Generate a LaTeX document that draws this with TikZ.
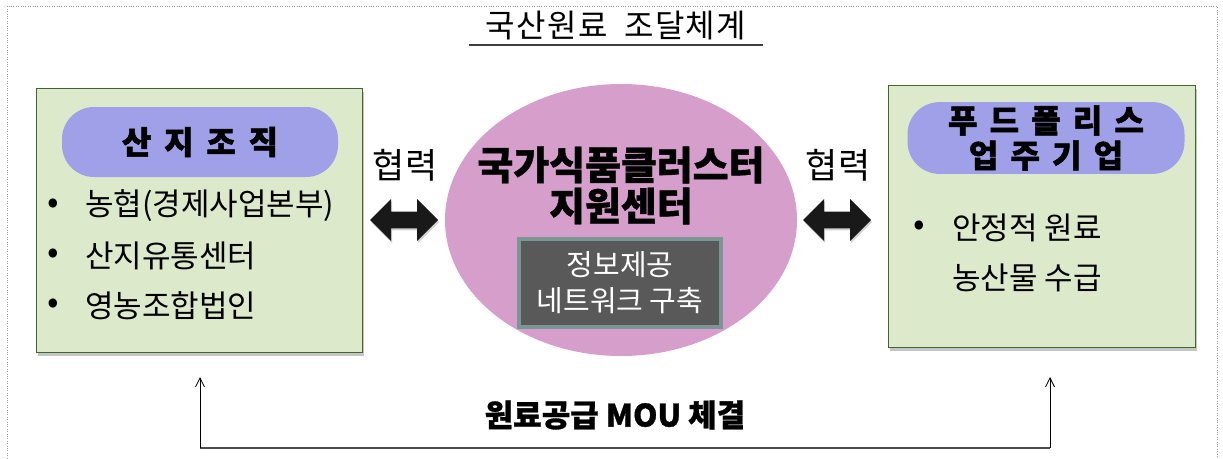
\documentclass[tikz,border=0pt]{standalone}
\usepackage{fontspec}
\setmainfont{Noto Sans CJK KR}
\usetikzlibrary{shapes.geometric,shapes.arrows,shadows,arrows.meta}
\definecolor{boxgreen}{RGB}{221,233,203}
\definecolor{boxedge}{RGB}{70,100,45}
\definecolor{pillblue}{RGB}{160,160,232}
\definecolor{ellpink}{RGB}{213,158,203}
\definecolor{infofill}{RGB}{89,89,89}
\definecolor{infoedge}{RGB}{124,149,149}
\begin{document}
\begin{tikzpicture}[x=1pt,y=-1pt,
  greenbox/.style={draw=boxedge, line width=1.2pt, fill=boxgreen, anchor=north west,
    drop shadow={shadow xshift=1.5pt,shadow yshift=-3pt,fill=black!45}},
  pill/.style={fill=pillblue, rounded corners=32pt, align=center,
    font=\fontsize{32}{38}\selectfont\bfseries\addfontfeature{LetterSpace=40,FakeBold=1.5}},
  body/.style={anchor=west, inner sep=0pt, font=\fontsize{31}{34}\selectfont},
  bullet/.style={inner sep=0pt, font=\fontsize{34}{36}\selectfont},
  dblarrow/.style={double arrow, fill=black!90, minimum width=42pt, minimum height=68pt,
    inner sep=7pt, double arrow head extend=11pt,
    drop shadow={shadow xshift=1pt,shadow yshift=-2pt,fill=black!35}},
  coop/.style={font=\fontsize{35}{38}\selectfont},
  centertext/.style={font=\fontsize{39}{42}\selectfont\bfseries\addfontfeature{FakeBold=1}},
  supply/.style={line width=0.8pt, -{Straight Barb[length=9pt,width=9pt]}}
]
\useasboundingbox (0,0) rectangle (1223,458);
\draw[dotted, gray!80] (7,458) -- (7,6) -- (1217,6) -- (1217,458);

% title
\node[font=\fontsize{32}{34}\selectfont\addfontfeature{LetterSpace=4}, inner sep=0pt] (title) at (616,26) {국산원료\ \ 조달체계};
\draw[line width=1.3pt, black!75] (469,45) -- (763,45);

% left box
\node[greenbox, minimum width=326pt, minimum height=264pt] (lbox) at (36,88) {};
\node[pill, minimum width=276pt, minimum height=70pt] (lpill) at (200,142) {산지조직};
\node[bullet] (lb1) at (53,206) {•};
\node[body] (l1) at (85,206) {농협(경제사업본부)};
\node[bullet] (lb2) at (53,256) {•};
\node[body] (l2) at (85,256) {산지유통센터};
\node[bullet] (lb3) at (53,306) {•};
\node[body] (l3) at (85,306) {영농조합법인};

% left cooperation
\node[coop] (h1) at (405,165) {협력};
\node[dblarrow] (a1) at (404,220) {};

% centre ellipse
\node[ellipse, fill=ellpink, minimum width=352pt, minimum height=272pt] (ell) at (621,220) {};
\node[centertext] (c1) at (621,165) {국가식품클러스터};
\node[centertext] (c2) at (621,206) {지원센터};
\node[fill=infofill, draw=infoedge, line width=4pt, minimum width=202pt, minimum height=88pt,
  align=center, text=white, font=\fontsize{29}{36}\selectfont] (info) at (620,283) {정보제공\\네트워크 구축};

% right cooperation
\node[coop] (h2) at (838,165) {협력};
\node[dblarrow] (a2) at (837,220) {};

% right box
\node[greenbox, minimum width=307pt, minimum height=262pt] (rbox) at (888,85) {};
\node[pill, minimum width=277pt, minimum height=71pt, font=\fontsize{32}{35}\selectfont\bfseries\addfontfeature{LetterSpace=38,FakeBold=1.5}] (rpill) at (1046,138) {푸드폴리스\\업주기업};
\node[bullet] (rb1) at (919,228) {•};
\node[body] (r1) at (952,228) {안정적 원료};
\node[body] (r2) at (952,278) {농산물 수급};

% bottom MOU
\coordinate (bl) at (200,448);
\coordinate (br) at (1050,448);
\coordinate (tl) at (200,377);
\coordinate (tr) at (1050,377);
\draw[line width=1.8pt, black!70] (bl) -- (br);
\draw[supply] (bl) -- (tl);
\draw[supply] (br) -- (tr);
\node[font=\fontsize{31}{34}\selectfont\bfseries\addfontfeature{FakeBold=1}] (mou) at (615,415) {원료공급 MOU 체결};
\end{tikzpicture}
\end{document}
